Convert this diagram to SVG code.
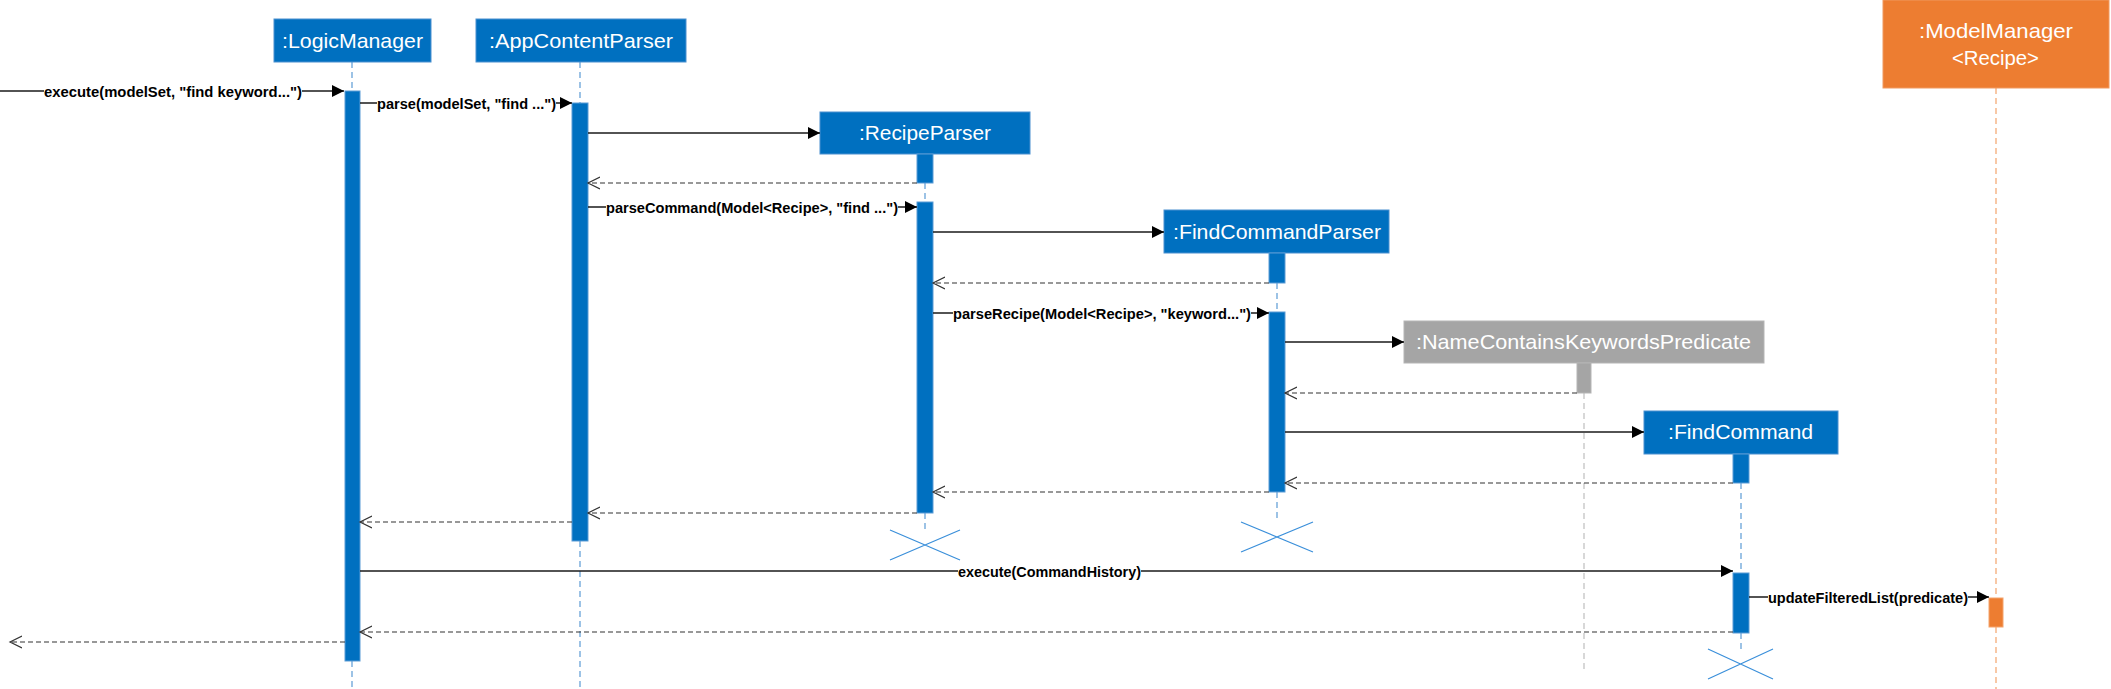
<svg xmlns="http://www.w3.org/2000/svg" width="2111" height="689" viewBox="0 0 2111 689">
<style>
.bg{fill:#ffffff}
.box{fill:#0070C0;stroke:#4A90D0;stroke-width:1}
.box-gray{fill:#A5A5A5;stroke:#B5B5B5;stroke-width:1}
.box-orange{fill:#ED7D31;stroke:#F09A60;stroke-width:1}
.ntext{fill:#ffffff;font-family:"Liberation Sans",Arial,sans-serif;font-size:21px}
.life{stroke:#5B9BD5;stroke-width:1.2;stroke-dasharray:6,4;fill:none}
.life-gray{stroke:#BFBFBF;stroke-width:1.2;stroke-dasharray:6,4;fill:none}
.life-orange{stroke:#F4A46C;stroke-width:1.2;stroke-dasharray:6,4;fill:none}
.act{fill:#0070C0;stroke:#5B9BD5;stroke-width:1}
.act-gray{fill:#A5A5A5;stroke:#B5B5B5;stroke-width:1}
.act-orange{fill:#ED7D31;stroke:#F4A46C;stroke-width:1}
.msg{stroke:#1a1a1a;stroke-width:1.3;fill:none;marker-end:url(#filled)}
.ret{stroke:#333333;stroke-width:1.2;stroke-dasharray:5,3;fill:none;marker-end:url(#open)}
.lblbg{fill:#ffffff}
.lbl{fill:#000000;font-family:"Liberation Sans",Arial,sans-serif;font-size:15px;font-weight:bold}
.xmark{stroke:#3A8FDA;stroke-width:1.2;fill:none}
</style>
<defs>
<marker id="filled" markerUnits="userSpaceOnUse" markerWidth="13" markerHeight="13" refX="12" refY="6" orient="auto">
<path d="M0,0 L12,6 L0,12 z" fill="#000000"/>
</marker>
<marker id="open" markerUnits="userSpaceOnUse" markerWidth="14" markerHeight="14" refX="12" refY="6.5" orient="auto">
<path d="M0,0.5 L12,6.5 L0,12.5" fill="none" stroke="#333333" stroke-width="1.2"/>
</marker>
</defs>
<rect class="bg" x="0" y="0" width="2111" height="689"/>

<g id="lifelines">
<line class="life" x1="352" y1="62" x2="352" y2="91"/>
<line class="life" x1="352" y1="661" x2="352" y2="689"/>
<line class="life" x1="580" y1="62" x2="580" y2="103"/>
<line class="life" x1="580" y1="541" x2="580" y2="689"/>
<line class="life" x1="925" y1="183" x2="925" y2="202"/>
<line class="life" x1="925" y1="513" x2="925" y2="530"/>
<line class="life" x1="1277" y1="283" x2="1277" y2="312"/>
<line class="life" x1="1277" y1="492" x2="1277" y2="518"/>
<line class="life-gray" x1="1584" y1="393" x2="1584" y2="669"/>
<line class="life" x1="1741" y1="483" x2="1741" y2="573"/>
<line class="life" x1="1741" y1="633" x2="1741" y2="649"/>
<line class="life-orange" x1="1996" y1="88" x2="1996" y2="598"/>
<line class="life-orange" x1="1996" y1="627" x2="1996" y2="689"/>
</g>

<g id="node-logicmanager">
<rect class="box" x="274" y="19" width="157" height="43"/>
<text class="ntext" x="282" y="48" textLength="141" lengthAdjust="spacingAndGlyphs">:LogicManager</text>
<rect class="act" x="345" y="91" width="15" height="570"/>
</g>

<g id="node-appcontentparser">
<rect class="box" x="476" y="19" width="210" height="43"/>
<text class="ntext" x="489" y="48" textLength="184" lengthAdjust="spacingAndGlyphs">:AppContentParser</text>
<rect class="act" x="572" y="103" width="16" height="438"/>
</g>

<g id="node-recipeparser">
<rect class="box" x="820" y="112" width="210" height="42"/>
<text class="ntext" x="859" y="140" textLength="132" lengthAdjust="spacingAndGlyphs">:RecipeParser</text>
<rect class="act" x="917" y="154" width="16" height="29"/>
<rect class="act" x="917" y="202" width="16" height="311"/>
<path class="xmark" d="M890,530 L960,560 M890,560 L960,530"/>
</g>

<g id="node-findcommandparser">
<rect class="box" x="1164" y="210" width="225" height="43"/>
<text class="ntext" x="1173" y="239" textLength="208" lengthAdjust="spacingAndGlyphs">:FindCommandParser</text>
<rect class="act" x="1269" y="253" width="16" height="30"/>
<rect class="act" x="1269" y="312" width="16" height="180"/>
<path class="xmark" d="M1241,522 L1313,552 M1241,552 L1313,522"/>
</g>

<g id="node-namecontainskeywordspredicate">
<rect class="box-gray" x="1404" y="321" width="360" height="42"/>
<text class="ntext" x="1416" y="349" textLength="335" lengthAdjust="spacingAndGlyphs">:NameContainsKeywordsPredicate</text>
<rect class="act-gray" x="1577" y="363" width="14" height="30"/>
</g>

<g id="node-findcommand">
<rect class="box" x="1644" y="411" width="194" height="43"/>
<text class="ntext" x="1668" y="439" textLength="145" lengthAdjust="spacingAndGlyphs">:FindCommand</text>
<rect class="act" x="1733" y="454" width="16" height="29"/>
<rect class="act" x="1733" y="573" width="16" height="60"/>
<path class="xmark" d="M1708,649 L1773,679 M1708,679 L1773,649"/>
</g>

<g id="node-modelmanager">
<rect class="box-orange" x="1883" y="0" width="226" height="88"/>
<text class="ntext" x="1919" y="38" textLength="154" lengthAdjust="spacingAndGlyphs">:ModelManager</text>
<text class="ntext" x="1952" y="65" textLength="87" lengthAdjust="spacingAndGlyphs">&lt;Recipe&gt;</text>
<rect class="act-orange" x="1989" y="598" width="14" height="29"/>
</g>

<g id="connectors">
<line class="msg" x1="0" y1="91" x2="344" y2="91"/>
<rect class="lblbg" x="44" y="82" width="258" height="18"/>
<text class="lbl" x="44" y="96.5" textLength="258" lengthAdjust="spacingAndGlyphs">execute(modelSet, "find keyword...")</text>

<line class="msg" x1="360" y1="103" x2="572" y2="103"/>
<rect class="lblbg" x="377" y="94" width="179" height="18"/>
<text class="lbl" x="377" y="108.5" textLength="179" lengthAdjust="spacingAndGlyphs">parse(modelSet, "find ...")</text>

<line class="msg" x1="588" y1="133" x2="820" y2="133"/>

<line class="ret" x1="917" y1="183" x2="588" y2="183"/>

<line class="msg" x1="588" y1="207" x2="917" y2="207"/>
<rect class="lblbg" x="606" y="198" width="292" height="18"/>
<text class="lbl" x="606" y="212.5" textLength="292" lengthAdjust="spacingAndGlyphs">parseCommand(Model&lt;Recipe&gt;, "find ...")</text>

<line class="msg" x1="933" y1="232" x2="1164" y2="232"/>

<line class="ret" x1="1269" y1="283" x2="933" y2="283"/>

<line class="msg" x1="933" y1="313" x2="1269" y2="313"/>
<rect class="lblbg" x="953" y="304" width="298" height="18"/>
<text class="lbl" x="953" y="318.5" textLength="298" lengthAdjust="spacingAndGlyphs">parseRecipe(Model&lt;Recipe&gt;, "keyword...")</text>

<line class="msg" x1="1285" y1="342" x2="1404" y2="342"/>

<line class="ret" x1="1577" y1="393" x2="1285" y2="393"/>

<line class="msg" x1="1285" y1="432" x2="1644" y2="432"/>

<line class="ret" x1="1733" y1="483" x2="1285" y2="483"/>

<line class="ret" x1="1269" y1="492" x2="933" y2="492"/>

<line class="ret" x1="917" y1="513" x2="588" y2="513"/>

<line class="ret" x1="572" y1="522" x2="360" y2="522"/>

<line class="msg" x1="360" y1="571" x2="1733" y2="571"/>
<rect class="lblbg" x="958" y="562" width="183" height="18"/>
<text class="lbl" x="958" y="576.5" textLength="183" lengthAdjust="spacingAndGlyphs">execute(CommandHistory)</text>

<line class="msg" x1="1749" y1="597" x2="1989" y2="597"/>
<rect class="lblbg" x="1768" y="588" width="200" height="18"/>
<text class="lbl" x="1768" y="602.5" textLength="200" lengthAdjust="spacingAndGlyphs">updateFilteredList(predicate)</text>

<line class="ret" x1="1733" y1="632" x2="360" y2="632"/>

<line class="ret" x1="345" y1="642" x2="10" y2="642"/>
</g>
</svg>
